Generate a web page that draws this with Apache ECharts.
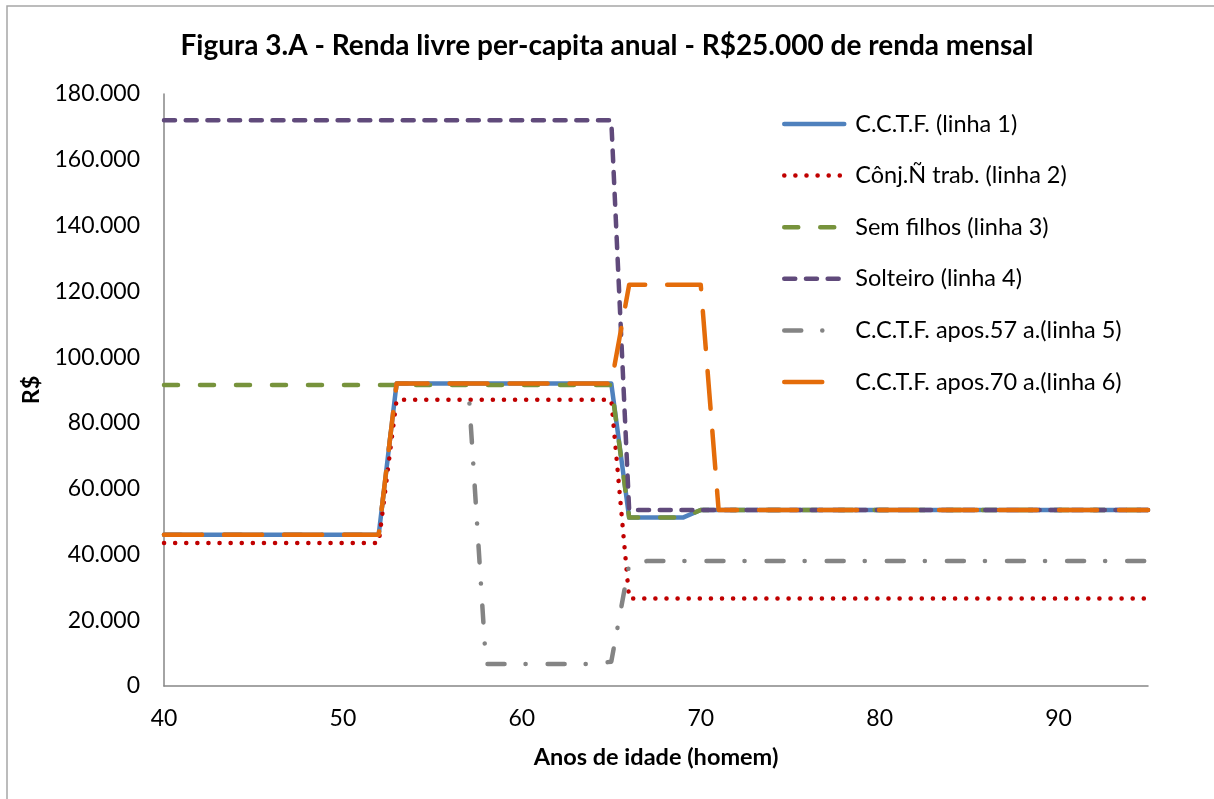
<!DOCTYPE html>
<html>
<head>
<meta charset="utf-8">
<script src="https://cdn.jsdelivr.net/npm/echarts@6/dist/echarts.min.js"></script>
<style>
html,body{margin:0;padding:0;background:#fff;}
#chart{width:1214px;height:799px;}
</style>
</head>
<body>
<div id="chart"></div>
<script>
// Ages (x values)
const ages = [40,41,42,43,44,45,46,47,48,49,50,51,52,53,54,55,56,57,58,59,60,61,62,63,64,65,66,67,68,69,70,71,72,73,74,75,76,77,78,79,80,81,82,83,84,85,86,87,88,89,90,91,92,93,94,95];

const seriesNames = [
  'C.C.T.F. (linha 1)',
  'Cônj.Ñ trab. (linha 2)',
  'Sem filhos (linha 3)',
  'Solteiro (linha 4)',
  'C.C.T.F. apos.57 a.(linha 5)',
  'C.C.T.F. apos.70 a.(linha 6)'
];

// linha 1
const linha1 = [46000,46000,46000,46000,46000,46000,46000,46000,46000,46000,46000,46000,46000,
  92000,92000,92000,92000,92000,92000,92000,92000,92000,92000,92000,92000,92000,
  51200,51200,51200,51200,
  53500,53500,53500,53500,53500,53500,53500,53500,53500,53500,53500,53500,53500,53500,53500,53500,53500,53500,53500,53500,53500,53500,53500,53500,53500,53500];
// linha 2
const linha2 = [43500,43500,43500,43500,43500,43500,43500,43500,43500,43500,43500,43500,43500,
  87000,87000,87000,87000,87000,87000,87000,87000,87000,87000,87000,87000,87000,
  26600,26600,26600,26600,26600,26600,26600,26600,26600,26600,26600,26600,26600,26600,26600,26600,26600,26600,26600,26600,26600,26600,26600,26600,26600,26600,26600,26600,26600,26600];
// linha 3
const linha3 = [91500,91500,91500,91500,91500,91500,91500,91500,91500,91500,91500,91500,91500,
  91500,91500,91500,91500,91500,91500,91500,91500,91500,91500,91500,91500,91500,
  51200,51200,51200,51200,
  53500,53500,53500,53500,53500,53500,53500,53500,53500,53500,53500,53500,53500,53500,53500,53500,53500,53500,53500,53500,53500,53500,53500,53500,53500,53500];
// linha 4
const linha4 = [172000,172000,172000,172000,172000,172000,172000,172000,172000,172000,172000,172000,172000,
  172000,172000,172000,172000,172000,172000,172000,172000,172000,172000,172000,172000,172000,
  53500,53500,53500,53500,53500,53500,53500,53500,53500,53500,53500,53500,53500,53500,53500,53500,53500,53500,53500,53500,53500,53500,53500,53500,53500,53500,53500,53500,53500,53500];
// linha 5
const linha5 = [46000,46000,46000,46000,46000,46000,46000,46000,46000,46000,46000,46000,46000,
  92000,92000,92000,92000,92000,
  6700,6700,6700,6700,6700,6700,6700,7400,
  37000,
  38000,38000,38000,38000,38000,38000,38000,38000,38000,38000,38000,38000,38000,38000,38000,38000,38000,38000,38000,38000,38000,38000,38000,38000,38000,38000,38000,38000,38000];
// linha 6
const linha6 = [46000,46000,46000,46000,46000,46000,46000,46000,46000,46000,46000,46000,46000,
  92000,92000,92000,92000,92000,92000,92000,92000,92000,92000,92000,92000,92000,
  122000,122000,122000,122000,122000,
  53500,53500,53500,53500,53500,53500,53500,53500,53500,53500,53500,53500,53500,53500,53500,53500,53500,53500,53500,53500,53500,53500,53500,53500,53500];

const allValues = [linha1, linha2, linha3, linha4, linha5, linha6];
const colors = ['#4F81BD', '#C00000', '#77933C', '#604A7B', '#848484', '#E46C0A'];
const dashes = ['solid', [0.1, 11], [14, 22], [11, 10.7], [17, 21, 0.1, 22], [38, 22]];

const FONT = 'Lato';

function fmt(v) {
  return String(v).replace(/\B(?=(\d{3})+(?!\d))/g, '.');
}

const chart = echarts.init(document.getElementById('chart'), null, {renderer: 'canvas'});

const series = allValues.map((vals, i) => ({
  name: seriesNames[i],
  type: 'line',
  data: ages.map((a, k) => [a, vals[k]]),
  symbol: 'none',
  showSymbol: false,
  animation: false,
  lineStyle: {
    color: colors[i],
    width: 4.5,
    type: dashes[i],
    cap: 'round',
    join: 'round'
  },
  itemStyle: {color: colors[i]}
}));

chart.setOption({
  animation: false,
  backgroundColor: '#ffffff',
  title: {
    text: 'Figura 3.A - Renda livre per-capita anual - R$25.000 de renda mensal',
    left: 'center',
    top: 27,
    textStyle: {fontFamily: FONT, fontSize: 28, fontWeight: 'bold', color: '#000'}
  },
  graphic: [{
    type: 'rect',
    shape: {x: 7, y: 6, width: 1230, height: 820},
    style: {fill: 'none', stroke: '#A6A6A6', lineWidth: 1.5},
    silent: true
  }],
  legend: {
    orient: 'vertical',
    left: 782,
    top: 112,
    padding: 0,
    itemWidth: 60,
    itemHeight: 14,
    itemGap: 27.6,
    itemStyle: {opacity: 0},
    lineStyle: {width: 4.5, cap: 'round'},
    textStyle: {fontFamily: FONT, fontSize: 23.5, color: '#000', lineHeight: 24, padding: [0, 0, 0, 6]},
    data: seriesNames
  },
  grid: {left: 164, right: 66, top: 94, bottom: 113, containLabel: false},
  xAxis: {
    type: 'value',
    min: 40,
    max: 95,
    interval: 10,
    name: 'Anos de idade (homem)',
    nameLocation: 'middle',
    nameGap: 59,
    nameTextStyle: {fontFamily: FONT, fontSize: 23.5, fontWeight: 'bold', color: '#000'},
    axisLine: {show: true, lineStyle: {color: '#868686', width: 1.5}},
    axisTick: {show: false},
    splitLine: {show: false},
    axisLabel: {fontFamily: FONT, fontSize: 23, color: '#000', margin: 21, showMaxLabel: false}
  },
  yAxis: {
    type: 'value',
    min: 0,
    max: 180000,
    interval: 20000,
    name: 'R$',
    nameLocation: 'middle',
    nameGap: 118,
    nameRotate: 90,
    nameTextStyle: {fontFamily: FONT, fontSize: 23.5, fontWeight: 'bold', color: '#000'},
    axisLine: {show: true, lineStyle: {color: '#868686', width: 1.5}},
    axisTick: {show: false},
    splitLine: {show: false},
    axisLabel: {fontFamily: FONT, fontSize: 23, color: '#000', margin: 24, formatter: fmt}
  },
  series: series
});
</script>
</body>
</html>
